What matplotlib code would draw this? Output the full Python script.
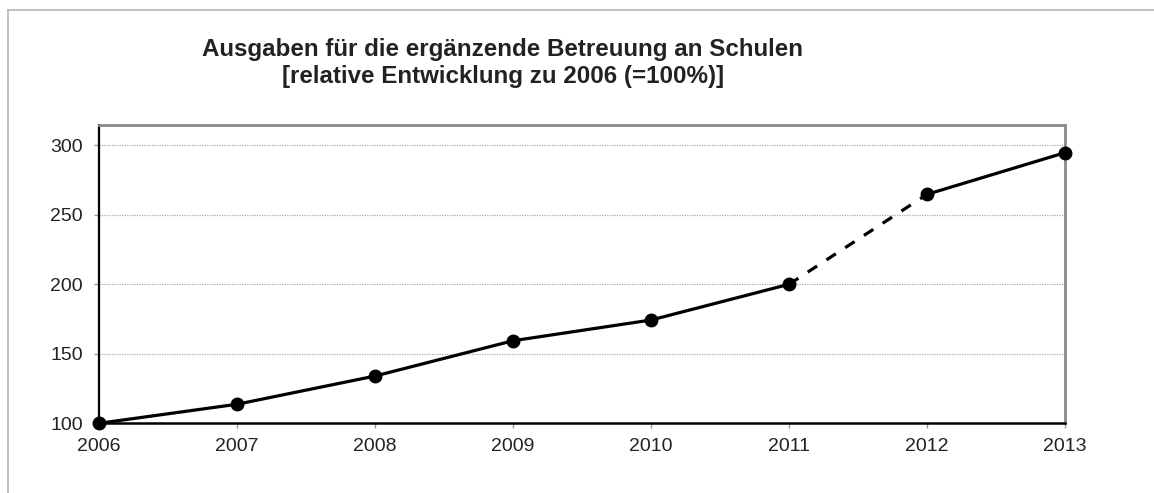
import numpy as np
import matplotlib
matplotlib.use("Agg")
import matplotlib.pyplot as plt
from matplotlib.lines import Line2D

plt.rcParams["font.family"] = ["Liberation Sans", "DejaVu Sans"]

years = [2006, 2007, 2008, 2009, 2010, 2011, 2012, 2013]
werte = [100, 113.7, 134, 159.4, 174.3, 200, 264.7, 294.7]
y_ticks = [100, 150, 200, 250, 300]
titel1 = "Ausgaben für die ergänzende Betreuung an Schulen"
titel2 = "[relative Entwicklung zu 2006 (=100%)]"

W, H = 1154, 493
fig = plt.figure(figsize=(W / 100, H / 100), dpi=100)
ax = fig.add_axes([99 / W, (H - 423.3) / H, (1065 - 99) / W, (423.3 - 125) / H])

x = np.array(years)
y = np.array(werte)
# solid up to 2011, dashed 2011-2012, solid 2012-2013
ax.plot(x[:6], y[:6], color="black", lw=2.3, zorder=3)
ax.plot(x[5:7], y[5:7], color="black", lw=2.3, ls=(0, (3.5, 3.5)), zorder=3)
ax.plot(x[6:], y[6:], color="black", lw=2.3, zorder=3)
ax.plot(x, y, ls="none", marker="o", ms=9, color="black", zorder=4, clip_on=False)

ax.set_xlim(2006, 2013)
ax.set_ylim(100, 314.6)
ax.set_xticks(years)
ax.set_yticks(y_ticks)
ax.tick_params(axis="both", labelsize=14, colors="#222222", length=3.6, width=1)
ax.tick_params(axis="x", color="#999999", pad=7)
ax.tick_params(axis="y", color="#999999", pad=8)
for g in y_ticks[1:]:
    ax.axhline(g, color="#aaaaaa", lw=0.9, ls=(0, (1, 1)), zorder=1)

ax.spines["left"].set_color("black")
ax.spines["left"].set_linewidth(1.6)
ax.spines["bottom"].set_color("black")
ax.spines["bottom"].set_linewidth(1.8)
ax.spines["top"].set_color("#8a8a8a")
ax.spines["top"].set_linewidth(2)
ax.spines["right"].set_color("#8a8a8a")
ax.spines["right"].set_linewidth(2)

# outer chart frame (cut off at right and bottom)
fig.add_artist(Line2D([8 / W, 8 / W], [0, (H - 10) / H], color="#b5b5b5", lw=1.2))
fig.add_artist(Line2D([8 / W, 1], [(H - 10) / H, (H - 10) / H], color="#b5b5b5", lw=1.2))

fig.text(503 / W, (H - 55.7) / H, titel1, ha="center", va="baseline",
         fontsize=17.4, fontweight="bold", color="#222222")
fig.text(503 / W, (H - 83) / H, titel2, ha="center", va="baseline",
         fontsize=17.4, fontweight="bold", color="#222222")

fig.savefig("out.png", dpi=100)
